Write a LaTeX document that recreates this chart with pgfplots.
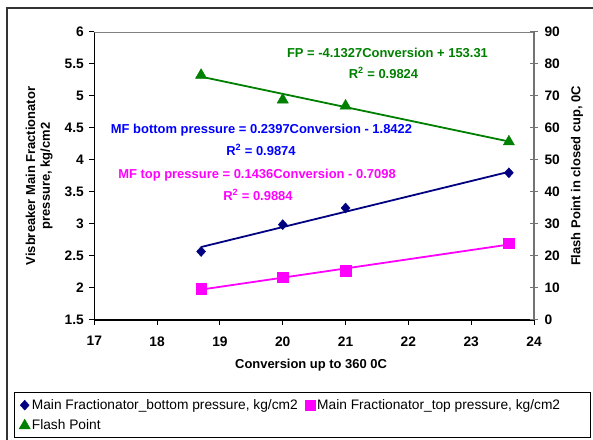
\documentclass[border=0pt]{standalone}
\usepackage{pgfplots}
\pgfplotsset{compat=1.18}
\usepackage{fontspec}
\setmainfont{Liberation Sans}

\definecolor{navyx}{RGB}{0,0,128}
\definecolor{magx}{RGB}{255,0,255}
\definecolor{greenx}{RGB}{0,128,0}
\definecolor{bluex}{RGB}{0,0,255}

\newcommand{\fb}{\bfseries\fontsize{13}{15}\selectfont}
\newcommand{\ft}{\bfseries\fontsize{13.8}{15}\selectfont}

\begin{document}
\begin{tikzpicture}[x=1bp,y=1bp]
\useasboundingbox (0,0) rectangle (593,440);
% outer frame (cropped on the right and bottom)
\draw[black!80, line width=1.3bp] (7,0) -- (7,432) -- (593,432);

\begin{axis}[
    at={(94.3bp,120bp)}, anchor=south west,
    scale only axis, width=439.7bp, height=288bp,
    xmin=17, xmax=24, ymin=1.5, ymax=6,
    xtick={17,18,...,24},
    ytick={1.5,2,2.5,3,3.5,4,4.5,5,5.5,6},
    axis x line*=bottom, axis y line*=left,
    x axis line style={-}, y axis line style={-},
    axis line style={black, line width=1.2bp},
    tick align=outside, major tick length=5bp,
    tick style={black, line width=1bp},
    /pgf/number format/assume math mode=true,
    ticklabel style={font=\ft},
    xticklabel style={yshift=-8bp},
    yticklabel style={/pgf/number format/fixed, /pgf/number format/precision=1, xshift=-2bp},
    xlabel={Conversion up to 360 0C},
    xlabel style={font=\fb, at={(axis description cs:0.493,-0.156)}, anchor=center},
    ylabel={Visbreaker Main Fractionator\\pressure, kg/cm2},
    ylabel style={font=\fb, align=center, at={(axis description cs:-0.1253,0.5)}, anchor=center, rotate=0},
    legend columns=2,
    legend cell align=left,
    legend image code/.code={\draw[#1] plot coordinates {(0bp,0bp)};},
    legend style={draw=none, fill=none, font=\fontsize{13.8}{15}\selectfont,
        at={(axis description cs:-0.1715,-0.27)}, anchor=north west,
        inner sep=0pt, row sep=6bp,
        nodes={inner sep=1.5bp},
        /tikz/every even column/.append style={column sep=6bp}},
]
\draw[gray, line width=0.8bp] (rel axis cs:0,1) -- (rel axis cs:1,1);
% trend lines
\addplot[navyx, line width=1.8bp, forget plot] coordinates {(18.7,2.640)(23.6,3.815)};
\addplot[magx, line width=1.8bp, forget plot] coordinates {(18.7,1.975)(23.6,2.679)};
% data
\addplot[only marks, mark=diamond*, mark size=5bp, color=navyx,
    mark options={xscale=1.2}] coordinates {
    (18.7,2.57)(20,2.99)(21,3.25)(23.6,3.80)};
\addlegendentry{Main Fractionator\_bottom pressure, kg/cm2}
\addplot[only marks, mark=square*, mark size=5.2bp, color=magx] coordinates {
    (18.7,1.99)(20,2.17)(21,2.27)(23.6,2.70)};
\addlegendentry{Main Fractionator\_top pressure, kg/cm2}
\addlegendimage{only marks, mark=triangle*, mark size=6.5bp, color=greenx}
\addlegendentry{Flash Point}
\end{axis}

\begin{axis}[
    at={(94.3bp,120bp)}, anchor=south west,
    scale only axis, width=439.7bp, height=288bp,
    xmin=17, xmax=24, ymin=0, ymax=90,
    ytick={0,10,...,90},
    axis x line=none, axis y line*=right,
    y axis line style={-},
    axis line style={black!55, line width=2bp},
    tick align=center, major tick length=8bp,
    tick style={black!55, line width=1bp},
    /pgf/number format/assume math mode=true,
    ticklabel style={font=\ft},
    yticklabel style={xshift=3bp},
    ylabel={Flash Point in closed cup, 0C},
    ylabel style={font=\fb, at={(axis description cs:1.0978,0.5)}, anchor=center, rotate=0},
]
\addplot[greenx, line width=1.8bp] coordinates {(18.7,76.03)(23.6,55.78)};
\addplot[only marks, mark=triangle*, mark size=6.5bp, color=greenx] coordinates {
    (18.7,76.5)(20,68.8)(21,66.9)(23.6,55.7)};
\end{axis}

% legend frame
\draw[black, line width=1bp] (14,2) rectangle (590,47.5);

% trendline labels
\node[font=\fb, text=greenx] at (387.5,386.7) {FP = -4.1327Conversion + 153.31};
\node[font=\fb, text=greenx] at (383.5,367) {R\textsuperscript{2} = 0.9824};
\node[font=\fb, text=bluex] at (261.5,310) {MF bottom pressure = 0.2397Conversion - 1.8422};
\node[font=\fb, text=bluex] at (261,290) {R\textsuperscript{2} = 0.9874};
\node[font=\fb, text=magx] at (257,265) {MF top pressure = 0.1436Conversion - 0.7098};
\node[font=\fb, text=magx] at (258,245) {R\textsuperscript{2} = 0.9884};
\end{tikzpicture}
\end{document}
